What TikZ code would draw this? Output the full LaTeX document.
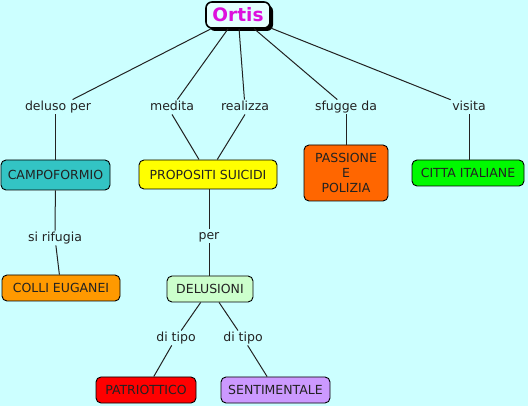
\documentclass[tikz,border=0pt]{standalone}
\usepackage{fontspec}
\setmainfont{DejaVu Sans}
\usetikzlibrary{shadows}
\definecolor{mapbg}{RGB}{204,255,255}
\definecolor{ortisfill}{RGB}{228,255,255}
\definecolor{ortistext}{RGB}{221,17,221}
\definecolor{campofill}{RGB}{51,196,196}
\definecolor{propfill}{RGB}{255,255,0}
\definecolor{passfill}{RGB}{255,102,0}
\definecolor{cittafill}{RGB}{0,250,0}
\definecolor{collifill}{RGB}{255,153,0}
\definecolor{delusfill}{RGB}{204,255,204}
\definecolor{patrfill}{RGB}{255,0,0}
\definecolor{sentfill}{RGB}{204,153,255}
\definecolor{inkgray}{RGB}{34,34,34}
\begin{document}
\begin{tikzpicture}[x=1pt, y=-1pt,
    concept/.style={draw=black, line width=0.9pt, rounded corners=5pt, inner sep=0pt,
        minimum height=26pt, text=inkgray, font=\fontsize{12.5}{15}\selectfont},
    linklabel/.style={inner sep=1.5pt, text height=9pt, text depth=2.5pt,
        text=inkgray, font=\fontsize{12.5}{14}\selectfont},
    conn/.style={line width=1pt, color=inkgray}]
    \fill[mapbg] (0,0) rectangle (528,406);
    \node[concept, fill=ortisfill, line width=1.6pt, rounded corners=6pt,
        minimum width=64pt, minimum height=26pt, text=ortistext,
        font=\fontsize{18.5}{20}\selectfont\bfseries,
        general shadow={fill=black, shadow xshift=3pt, shadow yshift=-3pt}] (ortis) at (238,15) {Ortis};
    \node[concept, fill=campofill, minimum width=109pt, minimum height=30pt] (campo) at (55.5,175) {CAMPOFORMIO};
    \node[concept, fill=propfill, minimum width=138pt, minimum height=29pt] (prop) at (208,174.5) {PROPOSITI SUICIDI};
    \node[concept, fill=passfill, minimum width=84pt, minimum height=56pt, align=center] (pass) at (346,173) {PASSIONE\\E\\POLIZIA};
    \node[concept, fill=cittafill, minimum width=112pt] (citta) at (468,173) {CITTA ITALIANE};
    \node[concept, fill=collifill, minimum width=118pt] (colli) at (61,288) {COLLI EUGANEI};
    \node[concept, fill=delusfill, minimum width=86pt] (delus) at (210,289) {DELUSIONI};
    \node[concept, fill=patrfill, minimum width=100pt] (patr) at (146,390) {PATRIOTTICO};
    \node[concept, fill=sentfill, minimum width=109pt] (sent) at (275.5,390) {SENTIMENTALE};
    \node[linklabel] (deluso) at (58,107) {deluso per};
    \node[linklabel] (medita) at (172,107) {medita};
    \node[linklabel] (realizza) at (245,107) {realizza};
    \node[linklabel] (sfugge) at (346,107) {sfugge da};
    \node[linklabel] (visita) at (469,107) {visita};
    \node[linklabel] (rifugia) at (55,238) {si rifugia};
    \node[linklabel] (per) at (209,236) {per};
    \node[linklabel] (tipoa) at (176,338) {di tipo};
    \node[linklabel] (tipob) at (243,338) {di tipo};
    \draw[conn] (ortis) -- (deluso);
    \draw[conn] (ortis) -- (medita);
    \draw[conn] (ortis) -- (realizza);
    \draw[conn] (ortis) -- (sfugge);
    \draw[conn] (ortis) -- (visita);
    \draw[conn] (deluso.south -| campo.north) -- (campo.north);
    \draw[conn] (medita.south) -- (prop);
    \draw[conn] (realizza.south) -- (prop);
    \draw[conn] (sfugge) -- (pass);
    \draw[conn] (visita) -- (visita |- citta.north);
    \draw[conn] (campo) -- (rifugia);
    \draw[conn] (rifugia) -- (colli);
    \draw[conn] (prop.south -| per.north) -- (per);
    \draw[conn] (per) -- (per |- delus.north);
    \draw[conn] (delus) -- (tipoa);
    \draw[conn] (delus) -- (tipob);
    \draw[conn] (tipoa) -- (patr);
    \draw[conn] (tipob) -- (sent);
\end{tikzpicture}
\end{document}
